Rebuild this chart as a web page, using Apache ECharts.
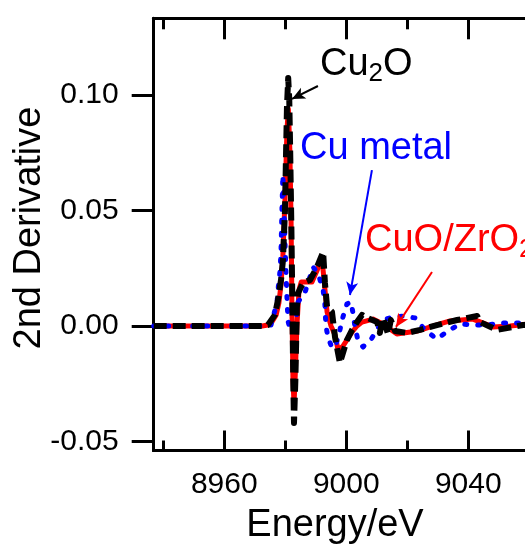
<!DOCTYPE html>
<html><head><meta charset="utf-8">
<script src="https://cdn.jsdelivr.net/npm/echarts@6/dist/echarts.min.js"></script>
<style>html,body{margin:0;padding:0;background:#fff}#c{width:525px;height:547px}</style>
</head><body><div id="c"></div>
<script>
const FONT = '"Liberation Sans", Arial, Helvetica, sans-serif';

const xMajorTicks = [8960, 9000, 9040];
const xMinorTicks = [8940, 8980, 9020];
const yTicks = [-0.05, 0, 0.05, 0.10];
const xRange = [8936.85, 9060];
const yRange = [-0.0539, 0.1332];

const xTitle = 'Energy/eV';
const yTitle = '2nd Derivative';
const seriesNames = ['CuO/ZrO2', 'Cu metal', 'Cu2O'];

// CuO/ZrO2 (red, solid)
const cuoZrO2 = [
  [8936.85,0],[8972.4,0],[8974.3,0.0004],[8975.6,0.0017],[8977.0,0.0048],[8977.9,0.010],
  [8978.6,0.018],[8979.2,0.030],[8979.9,0.055],[8980.55,0.085],[8981.0,0.094],
  [8981.5,0.076],[8981.9,0.045],[8982.2,0.005],[8982.5,-0.022],[8982.85,-0.034],
  [8983.3,-0.020],[8983.8,0],[8984.5,0.0156],[8985.2,0.019],[8988.75,0.019],
  [8990.4,0.024],[8992.0,0.0294],[8992.7,0.020],[8993.7,0.006],[8995.0,0],
  [8996.3,-0.0039],[8997.3,-0.0104],[8998.9,-0.0087],[9001.9,-0.0026],[9003.5,0],
  [9005.15,0.0017],[9008.75,0.003],[9012.0,0.0009],[9016.6,-0.0035],[9023.2,-0.0022],
  [9030.7,0.0009],[9034.0,0.0022],[9041.5,0.003],[9048.1,-0.0004],[9053.7,0],[9060,0.0009]
];
// Cu metal (blue, dotted)
const cuMetal = [
  [8936.85,0],[8972.4,0],[8975.3,0.0004],[8977.3,0.0104],[8977.6,0.0156],[8978.3,0.0242],
  [8978.6,0.0329],[8978.9,0.0502],[8979.2,0.0654],[8979.6,0.052],[8979.9,0.036],
  [8980.2,0.024],[8980.55,0.012],[8980.9,0.002],[8981.5,-0.0009],[8982.85,-0.0017],
  [8983.5,0.0026],[8984.2,0.0104],[8986.5,0.0147],[8989.1,0.0255],[8990.7,0.0229],
  [8992.4,0.0156],[8993.0,0.0091],[8993.3,0],[8994.0,-0.0048],[8995.3,-0.0095],
  [8996.6,-0.0082],[8997.9,-0.0017],[8998.9,0.0039],[9000.2,0.0095],[9001.5,0.0104],
  [9002.2,0.0056],[9002.85,-0.0004],[9003.8,-0.0061],[9005.5,-0.0091],[9008.4,-0.0052],
  [9012.0,0.0026],[9014.3,0.0035],[9018.6,0.0043],[9022.5,0.0035],[9025.8,-0.0017],
  [9029.7,-0.0056],[9033.3,-0.0022],[9037.3,0.0009],[9041.5,0.0004],[9046.1,0.0004],
  [9050.4,0.0013],[9054.65,0.0013],[9060,0.0013]
];
// Cu2O (black, dashed)
const cu2o = [
  [8936.85,0],[8972.4,0],[8974.3,0.0004],[8976.6,0.0048],[8977.6,0.0113],[8978.6,0.020],
  [8979.2,0.028],[8979.9,0.050],[8980.2,0.072],[8980.55,0.095],[8980.95,0.1074],
  [8981.3,0.098],[8981.6,0.076],[8982.0,0.042],[8982.3,0.0113],[8982.6,-0.0234],
  [8982.85,-0.042],[8983.3,-0.0234],[8983.8,0.0082],[8984.2,0.0143],[8985.8,0.0186],
  [8988.1,0.0199],[8990.4,0.0255],[8992.4,0.032],[8993.0,0.0186],[8993.7,0.0082],
  [8995.3,0.0061],[8996.3,-0.0048],[8997.9,-0.016],[9000.2,-0.0061],[9001.9,-0.0017],
  [9003.5,0.0017],[9005.15,0.0048],[9006.8,0.0035],[9010.1,0.0017],[9011.0,-0.003],
  [9012.0,0.0035],[9013.7,-0.0035],[9014.6,0.0026],[9016.0,-0.0022],[9019.9,-0.003],
  [9024.2,-0.0017],[9029.7,0.0004],[9036.3,0.0026],[9042.9,0.0043],[9043.8,0.0017],
  [9049.4,-0.0017],[9057.9,0.0004],[9060,0.0004]
];

const arrowCu2O = [[8990.7,0.1039],[8982.2,0.0983]];
const arrowCuMetal = [[9008.4,0.0675],[9001.2,0.0134]];
const arrowCuO = [[9028.1,0.0234],[9016.3,-0.0004]];

const GRID = {left:153.7, top:18.3, width:375.6, height:432.2};
const chart = echarts.init(document.getElementById('c'), null, {renderer:'canvas', width:525, height:547});

// frame pieces (top border, its ticks, bottom minor ticks) drawn in data space from the tick arrays;
// a tiny epsilon keeps the end points strictly inside the axis extents so they are not filtered out
const EPS_Y = 1e-7, EPS_X = 1e-4;
const yTop = yRange[1] - EPS_Y, yBot = yRange[0] + EPS_Y;
const xL = xRange[0] + EPS_X, xR = xRange[1] - EPS_X;
const dy = (yRange[1] - yRange[0]) / GRID.height;
function seg(p1, p2, cap) {
  return [{coord:p1, symbol:'none', lineStyle:{color:'#000', width:3, type:'solid', cap:cap || 'butt'}},
          {coord:p2, symbol:'none'}];
}
const frameLines = [
  seg([xL, yTop], [xR, yTop], 'square'),
  seg([xL, yBot], [xR, yBot], 'square')
].concat(
  xMajorTicks.map(function(x){ return seg([x, yTop], [x, yTop - 21 * dy]); }),
  xMinorTicks.map(function(x){ return seg([x, yTop], [x, yTop - 11 * dy]); }),
  xMinorTicks.map(function(x){ return seg([x, yBot], [x, yBot + 10 * dy]); })
);

function arrowItem(pts) { return [{coord:pts[0]}, {coord:pts[1]}]; }
function arrow(items, color) {
  return {
    silent:true, animation:false, symbol:['none','arrow'], symbolSize:[9,13],
    lineStyle:{color:color, width:2, type:'solid'}, label:{show:false},
    data:items
  };
}
function label(x, y, parts, color) {
  return {
    type:'text', x:x, y:y, silent:true,
    style:{
      text: parts, fill: color, align:'left', verticalAlign:'top',
      rich:{
        a:{fontSize:38, fontFamily:FONT, lineHeight:44, fill:color},
        b:{fontSize:26, fontFamily:FONT, lineHeight:20, verticalAlign:'bottom', fill:color}
      }
    }
  };
}

chart.setOption({
  animation:false,
  grid:Object.assign({outerBoundsMode:'none'}, GRID),
  xAxis:{
    type:'value', min:xRange[0], max:xRange[1], position:'bottom',
    axisLine:{show:true, onZero:false, lineStyle:{color:'#000', width:3}},
    axisTick:{show:true, inside:true, length:20, lineStyle:{color:'#000', width:3}, customValues:xMajorTicks},
    axisLabel:{show:true, customValues:xMajorTicks, margin:19, fontSize:30, color:'#000', fontFamily:FONT,
      formatter:function(v){return String(v);}},
    splitLine:{show:false}, minorTick:{show:false}
  },
  yAxis:{
    type:'value', min:yRange[0], max:yRange[1], position:'left',
    axisLine:{show:true, onZero:false, lineStyle:{color:'#000', width:3}},
    axisTick:{show:true, inside:false, length:22, lineStyle:{color:'#000', width:3}, customValues:yTicks},
    axisLabel:{show:true, customValues:yTicks, margin:35, fontSize:30, color:'#000', fontFamily:FONT,
      formatter:function(v){return v.toFixed(2);}},
    splitLine:{show:false}
  },
  series:[
    {name:seriesNames[0], type:'line', data:cuoZrO2, showSymbol:false, symbol:'none', z:2,
     lineStyle:{color:'#ff0000', width:5, join:'round'}, markLine:arrow([arrowItem(arrowCuO)],'#ff0000')},
    {name:seriesNames[1], type:'line', data:cuMetal, showSymbol:false, symbol:'none', z:3,
     lineStyle:{color:'#0000ff', width:5, type:[2,11], cap:'round', join:'round'}, markLine:arrow([arrowItem(arrowCuMetal)],'#0000ff')},
    {name:seriesNames[2], type:'line', data:cu2o, showSymbol:false, symbol:'none', z:4, clip:false,
     lineStyle:{color:'#000000', width:6, type:[13,6], cap:'butt', join:'round'},
     markLine:arrow([arrowItem(arrowCu2O)].concat(frameLines),'#000000')}
  ],
  graphic:{elements:[
    label(320, 43, '{a|Cu}{b|2}{a|O}', '#000'),
    label(300, 127, '{a|Cu metal}', '#0000ff'),
    label(365, 219, '{a|CuO/ZrO}{b|2}', '#ff0000'),
    {type:'text', x:335, y:504, silent:true,
     style:{text:xTitle, fill:'#000', font:'38px ' + FONT, align:'center', verticalAlign:'top', lineHeight:44}},
    {type:'text', x:30, y:228, rotation:Math.PI/2, silent:true,
     style:{text:yTitle, fill:'#000', font:'38px ' + FONT, align:'center', verticalAlign:'middle', lineHeight:44}}
  ]}
});
</script></body></html>
